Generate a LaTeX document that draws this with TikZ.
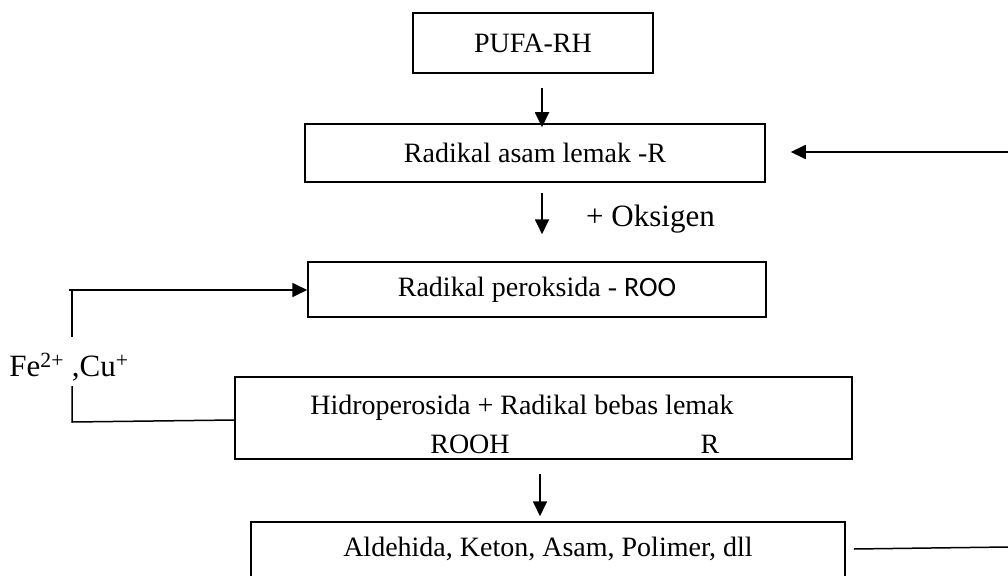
\documentclass[tikz,border=0pt]{standalone}
\usepackage{fontspec}
\setmainfont{Liberation Serif}
\newfontfamily\roofont{Carlito}
\usetikzlibrary{arrows.meta,calc}
\begin{document}
\begin{tikzpicture}[x=1pt,y=-1pt,
  font=\fontsize{28}{32}\selectfont,
  boxnode/.style={draw,line width=1.5pt,inner sep=0pt,anchor=center},
  txt/.style={inner sep=0pt,anchor=center},
  bigtxt/.style={inner sep=0pt,font=\fontsize{31}{35}\selectfont},
  arr/.style={line width=1.8pt,-{Triangle[length=15pt,width=14pt]}},
  ln/.style={line width=1.5pt}]
\useasboundingbox (0,0) rectangle (1008,575);
\node[boxnode,minimum width=240pt,minimum height=60pt] (pufa) at (533,43) {PUFA-RH};
\node[boxnode,minimum width=460pt,minimum height=58pt] (ral) at (535,153) {Radikal asam lemak -R};
\node[boxnode,minimum width=458pt,minimum height=55pt] (rp) at (537,289.5) {Radikal peroksida - {\roofont ROO}};
\node[boxnode,minimum width=617pt,minimum height=82pt] (hid) at (543.5,418) {};
\node[txt] (hidt) at (522,408) {Hidroperosida + Radikal bebas lemak};
\node[txt] (rooh) at (470,444) {ROOH};
\node[txt] (rr) at (710,444) {R};
\node[boxnode,minimum width=594pt,minimum height=62pt] (ald) at (548,553) {};
\node[txt] (aldt) at (548,549) {Aldehida, Keton, Asam, Polimer, dll};
\node[bigtxt,anchor=center] (fe) at (69,367) {Fe\textsuperscript{2+} ,Cu\textsuperscript{+}};
\node[bigtxt,anchor=west] (oks) at (586,219) {+ Oksigen};
\coordinate (ax) at (542,0);
\coordinate (ax3) at (540,0);
\coordinate (rin) at (1008,152);
\coordinate (fl) at (72,290);
\coordinate (flb) at (72,337);
\coordinate (fl2) at (72,386);
\coordinate (fl3) at (72,422);
\coordinate (bout) at (1008,547);
% main arrows
\draw[arr] ($(pufa.south -| ax)+(0,14)$) -- ($(ral.north -| ax)+(0,4)$);
\draw[arr] ($(ral.south -| ax)+(0,10)$) -- ($(rp.north -| ax)+(0,-27)$);
\draw[arr] ($(hid.south -| ax3)+(0,14)$) -- ($(ald.north -| ax3)+(0,-5)$);
% right feedback
\draw[arr] (rin) -- ($(ral.east)+(25,-1)$);
\draw[ln] ($(ald.east)+(8,-4)$) -- (bout);
% left metal loop
\draw[ln] (flb) -- (fl);
\draw[arr] ($(fl)+(-3,0)$) -- (rp.west |- fl);
\draw[ln] (fl2) -- (fl3) -- ($(hid.west)+(0,2)$);
\end{tikzpicture}
\end{document}
